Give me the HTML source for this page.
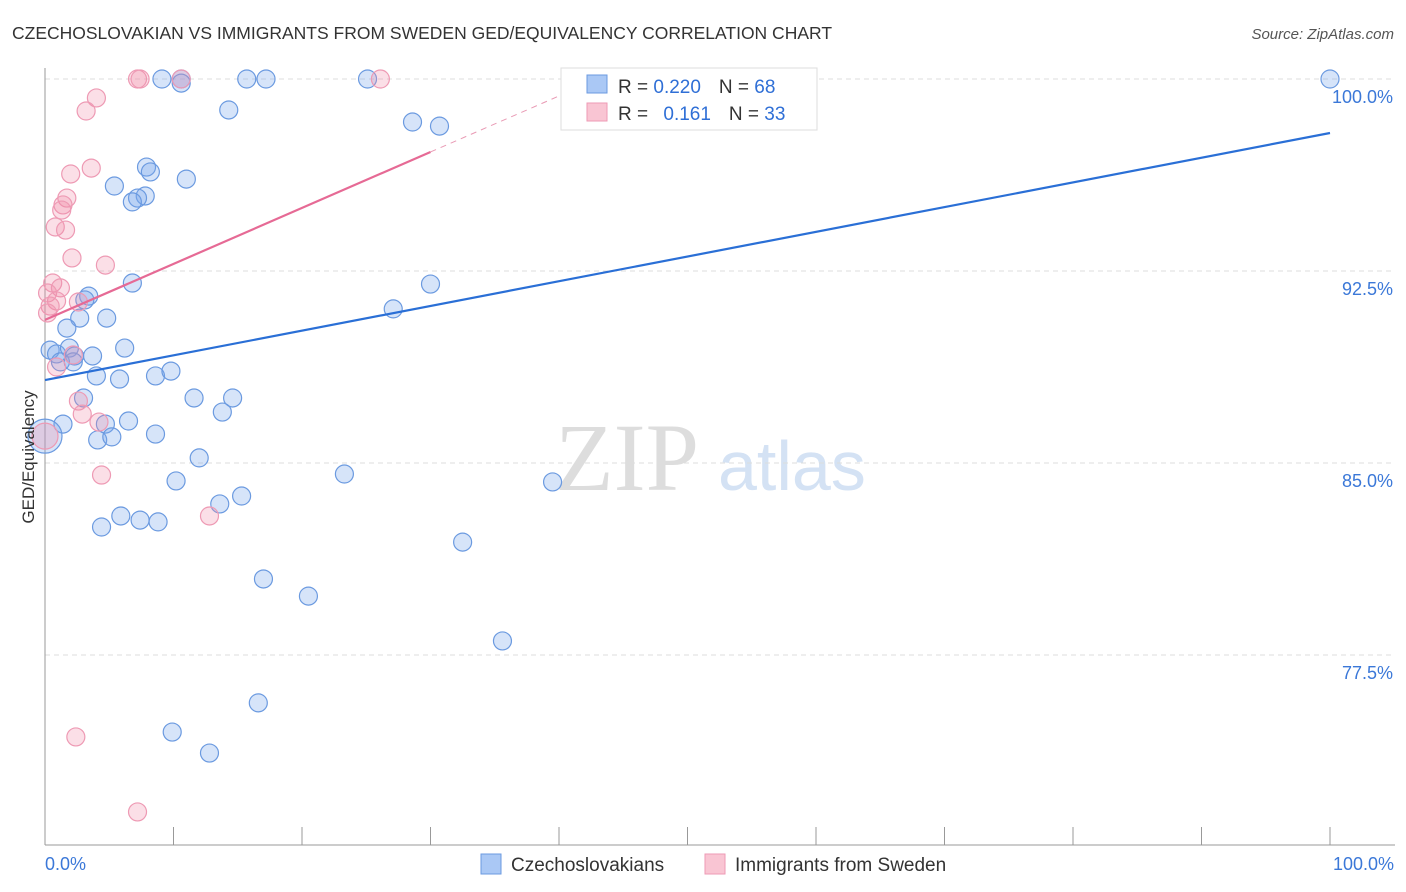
<!DOCTYPE html>
<html><head><meta charset="utf-8"><style>
body{margin:0;background:#fff;font-family:"Liberation Sans",sans-serif}
</style></head><body>
<svg id="chart" width="1406" height="892" xmlns="http://www.w3.org/2000/svg" style="display:block">
<text x="12" y="39" font-size="17.5" fill="#333">CZECHOSLOVAKIAN VS IMMIGRANTS FROM SWEDEN GED/EQUIVALENCY CORRELATION CHART</text>
<text x="1394" y="39" font-size="15" fill="#555" text-anchor="end" font-style="italic">Source: ZipAtlas.com</text>
<g>
<text x="555" y="490" font-size="96" fill="#ddd" font-family="Liberation Serif,serif">ZIP</text>
<text x="718" y="490" font-size="70" fill="#d4e2f4">atlas</text>
</g>
<g id="grid"></g>
<g id="axes"></g>
<g id="marks"></g>
<g id="trends"></g>
<text transform="translate(34,457) rotate(-90)" font-size="17" fill="#333" text-anchor="middle">GED/Equivalency</text>
<g>
<rect x="561" y="68" width="256" height="62" fill="#fff" stroke="#ddd"/>
<rect x="587" y="75" width="20" height="18" fill="#aac8f5" stroke="#6b9ae0"/>
<rect x="587" y="103" width="20" height="18" fill="#f9c5d3" stroke="#ee9ab4"/>
<text x="618" y="93" font-size="19" fill="#333">R = <tspan fill="#2f6fd6">0.220</tspan><tspan dx="18">N = </tspan><tspan fill="#2f6fd6">68</tspan></text>
<text x="618" y="120" font-size="19" fill="#333">R = <tspan dx="10" fill="#2f6fd6">0.161</tspan><tspan dx="18">N = </tspan><tspan fill="#2f6fd6">33</tspan></text>
</g>
<g>
<rect x="481" y="854" width="20" height="20" fill="#aac8f5" stroke="#6b9ae0"/>
<text x="511" y="871" font-size="19" fill="#333">Czechoslovakians</text>
<rect x="705" y="854" width="20" height="20" fill="#f9c5d3" stroke="#ee9ab4"/>
<text x="735" y="871" font-size="19" fill="#333">Immigrants from Sweden</text>
</g>
</svg>
<script>
const yTicks=[100,92.5,85,77.5];
const yTickLabels=["100.0%","92.5%","85.0%","77.5%"];
const xTickLabels=["0.0%","100.0%"];
const blueX=[9.1,10.6,10.6,15.7,17.2,25.1,100,43.5,14.3,28.6,30.7,7.9,8.2,11.0,5.4,7.8,7.2,6.8,6.8,30.0,27.1,3.4,3.1,2.7,4.8,1.7,0.4,0.9,1.9,2.3,3.7,6.2,1.2,2.2,4.0,5.8,8.6,9.8,3.0,11.6,14.6,13.8,1.4,4.7,6.5,4.1,5.2,8.6,0,12.0,10.2,13.6,15.3,23.3,39.5,4.4,5.9,7.4,8.8,32.5,17.0,20.5,35.6,16.6,9.9,12.8];
const blueY=[100,100,99.84,100,100,100,100,100,98.79,98.32,98.16,96.56,96.37,96.09,95.82,95.43,95.35,95.2,92.03,91.99,91.02,91.52,91.37,90.66,90.66,90.27,89.41,89.26,89.49,89.18,89.18,89.49,88.95,88.95,88.4,88.28,88.4,88.59,87.54,87.54,87.54,86.99,86.52,86.52,86.64,85.9,86.02,86.13,86.05,85.2,84.3,83.4,83.71,84.57,84.26,82.5,82.93,82.77,82.7,81.91,80.47,79.8,78.05,75.63,74.49,73.67];
const pinkX=[7.2,7.4,10.6,26.1,50.0,4.0,3.2,3.6,2.0,1.7,1.4,1.3,0.8,1.6,2.1,4.7,0.6,1.2,0.2,0.9,0.4,2.6,0.2,2.2,0.9,2.6,2.9,4.2,0,4.4,12.8,2.4,7.2];
const pinkY=[100,100,100,100,100,99.26,98.75,96.52,96.29,95.35,95.08,94.88,94.22,94.1,93.01,92.73,92.03,91.84,91.64,91.33,91.13,91.29,90.86,89.22,88.75,87.42,86.91,86.6,86.05,84.53,82.93,74.3,71.37];
const blueTrend=[88.24,97.89];
const pinkTrend=[90.59,97.15];
const NS="http://www.w3.org/2000/svg";
const X=v=>45+v*12.85, Y=v=>79+(100-v)*25.6;
function el(t,a,p){const e=document.createElementNS(NS,t);for(const k in a)e.setAttribute(k,a[k]);p.appendChild(e);return e;}
const grid=document.getElementById('grid'),axes=document.getElementById('axes'),marks=document.getElementById('marks'),trends=document.getElementById('trends');
yTicks.forEach((t,i)=>{
 const l=el('line',{x1:45,x2:1395,y1:Y(t),y2:Y(t),stroke:'#ddd','stroke-dasharray':'5,4'},grid);
 
 
 const tx=el('text',{x:1393,y:Y(t)+24,'font-size':18,fill:'#3b78d8','text-anchor':'end'},axes);
 tx.textContent=yTickLabels[i];
 
 
});
el('line',{x1:45,x2:45,y1:68,y2:845,stroke:'#999'},axes);
el('line',{x1:45,x2:1395,y1:845,y2:845,stroke:'#999'},axes);
for(let i=0;i<=10;i++){const tk=el('line',{x1:X(i*10),x2:X(i*10),y1:827,y2:845,stroke:'#999'},axes);
 
 }
const xl0=el('text',{x:45,y:870,'font-size':18,fill:'#3b78d8'},axes);xl0.textContent=xTickLabels[0];


const xl1=el('text',{x:1394,y:870,'font-size':18,fill:'#3b78d8','text-anchor':'end'},axes);xl1.textContent=xTickLabels[1];


function dots(xs,ys,fill,stroke,name){xs.forEach((x,i)=>{
 const r=(x===0&&ys[i]>85.9&&ys[i]<86.2)?(name==='blue-point'?17:13):9;
 const c=el('circle',{cx:X(x),cy:Y(ys[i]),r:r,fill:fill,stroke:stroke,'stroke-width':1.2},marks);
 
 });}
dots(blueX,blueY,'rgba(120,165,235,0.3)','#6b9ae0','blue-point');
dots(pinkX,pinkY,'rgba(242,140,170,0.28)','#ee9ab4','pink-point');
const bl=el('line',{x1:X(0),y1:Y(blueTrend[0]),x2:X(100),y2:Y(blueTrend[1]),stroke:'#2a6fd6','stroke-width':2.2},trends);


const pl=el('line',{x1:X(0),y1:Y(pinkTrend[0]),x2:X(30),y2:Y(pinkTrend[1]),stroke:'#e66a95','stroke-width':2.2},trends);


const slope=(pinkTrend[1]-pinkTrend[0])/30, xEnd=(100-pinkTrend[0])/slope;
const pd=el('line',{x1:X(30),y1:Y(pinkTrend[1]),x2:X(xEnd),y2:Y(100),stroke:'#e99ab4','stroke-width':1,'stroke-dasharray':'6,5'},trends);


</script>
</body></html>
